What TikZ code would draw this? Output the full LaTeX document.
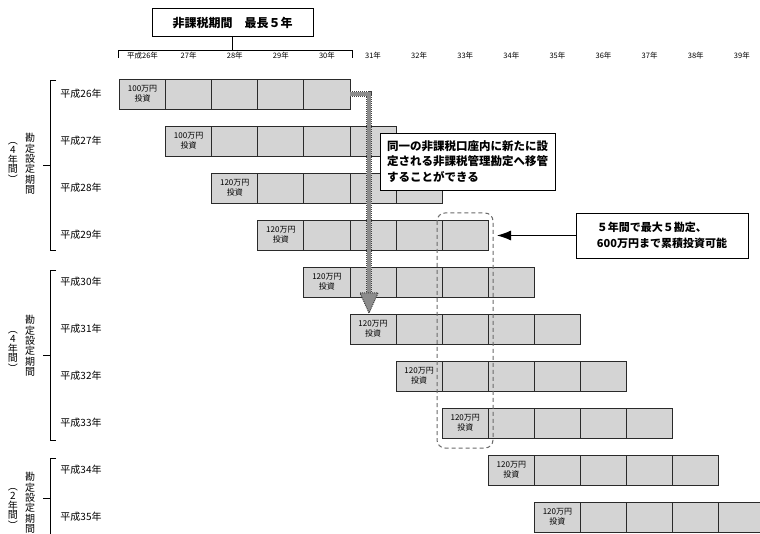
\documentclass[tikz,border=0pt]{standalone}
\usepackage{fontspec}
\setmainfont{Noto Sans CJK JP}
\usetikzlibrary{arrows.meta}
\definecolor{cellfill}{HTML}{D4D4D4}
\definecolor{cellline}{HTML}{2A2A2A}
\definecolor{xfer}{HTML}{8C8C8C}
\definecolor{dashc}{HTML}{6A6A6A}
\newcommand{\vparL}{\rotatebox[origin=c]{-90}{（}}
\newcommand{\vparR}{\rotatebox[origin=c]{-90}{）}}
\begin{document}
\begin{tikzpicture}[x=1pt,y=-1pt,
  cell/.style={draw=cellline, fill=cellfill, line width=0.9pt, minimum width=46.1pt, minimum height=30pt, inner sep=0pt, font=\fontsize{8}{10}\selectfont, align=center},
  rowlab/.style={font=\fontsize{10}{12}\selectfont, inner sep=0pt},
  yearlab/.style={font=\fontsize{7.5}{9}\selectfont, inner sep=0pt},
  vlab/.style={font=\fontsize{10}{10.4}\selectfont, align=center, inner sep=0pt},
  plab/.style={font=\fontsize{10}{9.5}\selectfont, align=center, inner sep=0pt},
  callout/.style={draw=black, fill=white, line width=0.8pt, align=left, font=\bfseries\fontsize{11.5}{15.5}\selectfont, inner sep=0pt},
  bracket/.style={draw=black, line width=0.9pt},
  dashbox/.style={draw=dashc, line width=1pt, dash pattern=on 4pt off 3pt, rounded corners=8pt},
  xferout/.style={draw=black!75, line width=6.5pt, dash pattern=on 1pt off 1pt, line join=miter},
  xferin/.style={draw=xfer, line width=4pt, line join=miter},
]
\clip (0,0) rectangle (760,534);
\fill[white] (0,0) rectangle (760,534);

% title and top bracket
\node[draw=black, line width=0.9pt, minimum width=161pt, minimum height=28.5pt, font=\bfseries\fontsize{12}{14}\selectfont, inner sep=0pt] (title) at (232.5,22.5) {非課税期間　最長５年};
\coordinate (brk) at (232.5,50);
\draw[bracket] (title.south) -- (brk);
\draw[bracket] (118,58) -- (118,50) -- (352,50) -- (352,58);

% header years
\foreach \k in {0,...,13}{
  \pgfmathtruncatemacro{\yy}{26+\k}
  \pgfmathsetmacro{\xc}{142.55+46.1*\k}
  \node[yearlab] (h\k) at (\xc,56) {\ifnum\k=0 平成\fi\yy 年};
}

% rows
\foreach \r in {0,...,9}{
  \pgfmathsetmacro{\yc}{94+47*\r}
  \pgfmathtruncatemacro{\yr}{26+\r}
  \pgfmathtruncatemacro{\amt}{\r<2 ? 100 : 120}
  \node[rowlab] (lab\r) at (81,\yc) {平成\yr 年};
  \foreach \k in {0,...,4}{
    \pgfmathsetmacro{\xc}{142.55+46.1*(\r+\k)}
    \ifnum\k=0
      \node[cell] (c\r-\k) at (\xc,\yc) {\amt 万円\\投資};
    \else
      \node[cell] (c\r-\k) at (\xc,\yc) {};
    \fi
  }
}

% left brackets
\draw[bracket] (56,80) -- (50,80) -- (50,250) -- (56,250);
\draw[bracket] (50,165) -- (43,165);
\draw[bracket] (56,270) -- (50,270) -- (50,440) -- (56,440);
\draw[bracket] (50,355) -- (43,355);
\draw[bracket] (56,458) -- (50,458) -- (50,540);
\draw[bracket] (50,498) -- (43,498);

\node[vlab] (v1) at (30,164) {勘\\定\\設\\定\\期\\間};
\node[plab] (p1) at (13,160) {\vparL\\4\\年\\間\\\vparR};
\node[vlab] (v2) at (30,346) {勘\\定\\設\\定\\期\\間};
\node[plab] (p2) at (13,349) {\vparL\\4\\年\\間\\\vparR};
\node[vlab] (v3) at (30,503) {勘\\定\\設\\定\\期\\間};
\node[plab] (p3) at (13,506) {\vparL\\2\\年\\間\\\vparR};

% dashed group box
\draw[dashbox] (437,213) rectangle (493,448);

% transfer arrow
\coordinate (t1) at (369,94);
\coordinate (t2) at (369,294);
\coordinate (t3) at (369,313);
\draw[xferout] (c0-4.east) -- (t1) -- (t2);
\draw[xferin] (c0-4.east) -- (t1) -- (t2);
\draw[fill=xfer, draw=black!75, line width=1pt, dash pattern=on 1pt off 1pt] (360,293) -- (378,293) -- (t3) -- cycle;

% callouts
\node[callout, minimum width=175pt, minimum height=57pt] (cb1) at (467.5,161.5) {同一の非課税口座内に新たに設\\定される非課税管理勘定へ移管\\することができる};
\node[callout, minimum width=172pt, minimum height=45pt, font=\bfseries\fontsize{11}{16}\selectfont] (cb2) at (662,235.5) {５年間で最大５勘定、\\600万円まで累積投資可能};
\coordinate (tip) at (497,235.5);
\draw[line width=0.9pt, -{Latex[length=14pt,width=10pt]}] (cb2.west) -- (tip);
\end{tikzpicture}
\end{document}
